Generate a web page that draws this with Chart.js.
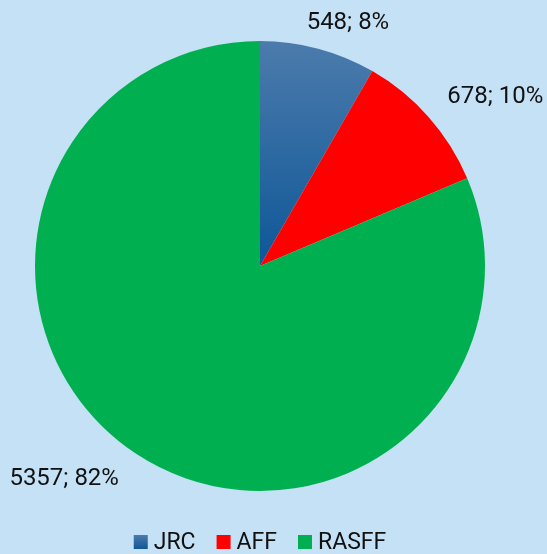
<!DOCTYPE html>
<html>
<head>
<meta charset="utf-8">
<script src="https://cdn.jsdelivr.net/npm/chart.js@4.4.0/dist/chart.umd.min.js"></script>
<style>
  html, body { margin: 0; padding: 0; background: #C5E1F5; }
  #wrap { width: 547px; height: 554px; position: relative; }
</style>
</head>
<body>
<div id="wrap"><canvas id="c" width="547" height="554"></canvas></div>
<script>
const categories = ["JRC", "AFF", "RASFF"];
const values = [548, 678, 5357];
const percentLabels = ["8%", "10%", "82%"];

const flatColors = ["#1F5E9A", "#FF0000", "#00B050"];
// small placement nudges for the outside data labels (px)
const labelNudge = [[-18, -2], [0, -3], [-3, 5]];

function sliceColor(ctx) {
  const i = ctx.dataIndex;
  if (i !== 0) return flatColors[i];
  const chart = ctx.chart;
  const area = chart.chartArea;
  if (!area) return flatColors[0];
  const cy = (area.top + area.bottom) / 2;
  const g = chart.ctx.createLinearGradient(0, area.top, 0, cy);
  g.addColorStop(0, "#4C7BAC");
  g.addColorStop(1, "#0E5797");
  return g;
}

const labelPlugin = {
  id: "sliceLabels",
  afterDatasetsDraw(chart) {
    const meta = chart.getDatasetMeta(0);
    const c = chart.ctx;
    c.save();
    c.font = "24px Roboto";
    c.fillStyle = "#111111";
    c.textBaseline = "middle";
    meta.data.forEach((arc, i) => {
      const p = arc.getProps(["x", "y", "startAngle", "endAngle", "outerRadius"], true);
      const mid = (p.startAngle + p.endAngle) / 2;
      const d = p.outerRadius + 25;
      const x = p.x + Math.cos(mid) * d + labelNudge[i][0];
      const y = p.y + Math.sin(mid) * d + labelNudge[i][1];
      c.textAlign = Math.cos(mid) >= 0 ? "left" : "right";
      c.fillText(values[i] + "; " + percentLabels[i], x, y);
    });
    c.restore();
  }
};

const legendPlugin = {
  id: "bottomLegend",
  afterDraw(chart) {
    const c = chart.ctx;
    const area = chart.chartArea;
    c.save();
    c.font = "23px Roboto";
    c.textBaseline = "middle";
    c.textAlign = "left";
    const box = 14, gapText = 6, gapItem = 21;
    const widths = categories.map(t => box + gapText + c.measureText(t).width);
    const total = widths.reduce((a, b) => a + b, 0) + gapItem * (categories.length - 1);
    const cx = (area.left + area.right) / 2;
    let x = cx - total / 2;
    const y = area.bottom + 51;
    categories.forEach((name, i) => {
      if (i === 0) {
        const g = c.createLinearGradient(0, y - box / 2, 0, y + box / 2);
        g.addColorStop(0, "#4C7BAC");
        g.addColorStop(1, "#0E5797");
        c.fillStyle = g;
      } else {
        c.fillStyle = flatColors[i];
      }
      c.fillRect(x, y - box / 2, box, box);
      c.fillStyle = "#111111";
      c.fillText(name, x + box + gapText, y + 1);
      x += widths[i] + gapItem;
    });
    c.restore();
  }
};

new Chart(document.getElementById("c"), {
  type: "pie",
  data: {
    labels: categories,
    datasets: [{
      data: values,
      backgroundColor: sliceColor,
      borderWidth: 0
    }]
  },
  options: {
    responsive: false,
    animation: false,
    layout: { padding: { left: 35, right: 62, top: 41, bottom: 63 } },
    plugins: {
      tooltip: { enabled: false },
      legend: { display: false }
    }
  },
  plugins: [labelPlugin, legendPlugin]
});
</script>
</body>
</html>
